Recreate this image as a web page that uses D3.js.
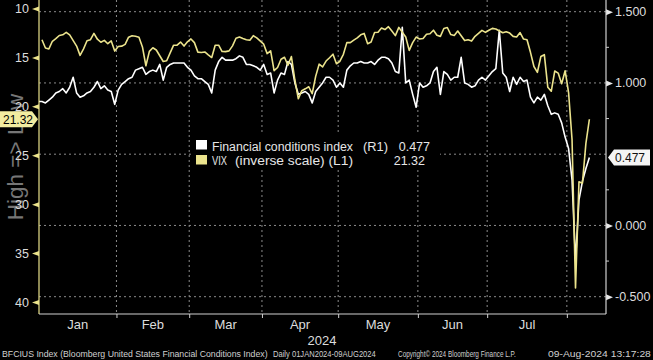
<!DOCTYPE html>
<html><head><meta charset="utf-8">
<script src="https://cdn.jsdelivr.net/npm/d3@7"></script>
<style>html,body{margin:0;padding:0;background:#000;overflow:hidden}</style>
</head><body><svg id="c" width="653" height="360"></svg>
<script>
// ---------- data ----------
const months = ["Jan","Feb","Mar","Apr","May","Jun","Jul"];
const yearLabel = "2024";
const leftTicks = [10,15,20,25,30,35,40];
const rightTicks = [-0.5,0,0.5,1,1.5];
const rightLabelTicks = [-0.5,0,1,1.5];
const rightMinor = [-0.25,0.25,0.75,1.25];
// weekdays 01JAN2024 - 09AUG2024 (index order)
const fciValues = [
 // Jan
 0.87,0.87,0.86,0.88,0.90,0.93,0.94,0.96,0.93,0.97,1.04,0.93,0.90,0.91,0.93,0.94,0.97,1.01,0.96,0.98,0.95,0.94,0.85,
 // Feb
 0.95,0.99,1.01,1.03,1.04,1.09,1.10,1.11,1.06,1.08,1.09,1.08,1.13,1.02,1.11,1.13,1.14,1.14,1.14,1.14,1.11,
 // Mar
 1.09,1.05,1.03,1.03,1.01,0.99,0.93,1.09,1.15,1.18,1.16,1.16,1.16,1.17,1.19,1.18,1.13,1.13,1.12,1.11,1.09,
 // Apr
 1.13,1.06,1.07,0.93,1.02,1.07,1.06,1.15,1.13,1.00,0.92,0.93,0.94,0.92,0.86,0.94,0.97,1.00,1.04,1.04,1.02,0.97,
 // May
 1.00,0.97,1.09,1.12,1.14,1.14,1.15,1.14,1.14,1.15,1.13,1.16,1.18,1.18,1.17,1.14,1.08,1.07,1.39,1.00,1.02,0.92,0.83,
 // Jun
 1.00,0.97,0.98,1.00,1.08,1.11,0.92,1.08,1.06,1.02,1.04,1.04,1.18,1.00,0.99,0.97,0.98,1.02,1.04,1.02,
 // Jul
 1.05,1.08,1.10,1.37,1.07,1.04,0.94,1.04,0.99,1.04,1.01,1.02,0.90,0.86,0.90,0.88,0.92,0.84,0.78,0.79,0.78,0.72,0.62,
 // Aug
 0.54,0.32,-0.25,0.18,0.31,0.40,0.477
];
const vixValues = [
 // Jan
 null,13.20,14.04,14.13,13.35,13.08,12.76,12.69,12.44,12.70,null,13.84,14.79,14.13,13.30,13.19,12.55,13.14,13.45,13.26,13.60,13.31,14.35,
 // Feb
 13.88,13.85,13.67,12.93,12.79,12.83,12.93,13.93,15.85,14.38,14.01,14.24,null,15.42,15.34,14.54,13.75,13.74,13.43,13.84,13.40,
 // Mar
 13.11,13.49,14.46,14.50,14.44,14.74,15.01,13.75,13.75,14.40,14.41,14.33,13.82,13.04,12.92,13.06,13.19,13.24,12.78,13.01,null,
 // Apr
 13.65,14.61,14.33,16.35,16.03,15.19,14.98,15.80,14.91,17.31,19.23,18.40,18.21,18.00,18.71,16.94,15.69,15.97,15.37,15.03,14.67,15.65,
 // May
 15.39,14.68,13.49,13.49,13.23,13.00,12.69,12.55,13.60,13.42,12.45,12.42,11.99,12.15,11.86,12.29,12.77,11.93,null,12.92,14.28,13.49,12.92,
 // Jun
 13.11,13.06,12.63,12.58,12.22,12.74,12.85,12.04,11.94,12.66,12.75,12.30,null,13.28,13.20,13.33,12.84,12.55,12.24,12.44,
 // Jul
 12.22,12.03,12.09,null,12.48,12.37,12.51,12.85,12.91,12.46,13.12,13.19,14.48,15.93,16.52,14.91,14.72,18.04,18.46,16.39,16.60,17.69,16.36,
 // Aug
 18.59,23.39,38.57,27.71,27.85,23.79,21.32
];
const fciName = "Financial conditions index", fciTag = "(R1)";
const vixName = "VIX", vixTag = "(inverse scale) (L1)";
const footer = [
 "BFCIUS Index (Bloomberg United States Financial Conditions Index)",
 "Daily 01JAN2024-09AUG2024",
 "Copyright\u00A9 2024 Bloomberg Finance L.P.",
 "09-Aug-2024 13:17:28"
];

// ---------- layout ----------
const L = 39, R = 606, T = 0, B = 314;
const YEL = "#ebe38c", WHT = "#ffffff", GRID = "#8c8c8c", TXT = "#dcdcdc";
const FONT = "'Liberation Sans', Arial, sans-serif";

const dates = d3.timeDay.range(new Date(2024,0,1), new Date(2024,7,10))
  .filter(d => d.getDay() !== 0 && d.getDay() !== 6);

const x = d3.scaleLinear().domain([0, 163.8]).range([38.5, R]);
const yL = d3.scaleLinear().domain([10, 40]).range([8.5, 302]);
const yR = d3.scaleLinear().domain([-0.5, 1.5]).range([296.7, 11.7]);

const bounds = [];
for (let m = 1; m <= 7; m++) {
  const i = dates.findIndex(d => d.getMonth() === m);
  bounds.push(i - 0.5);
}
const edges = [x.invert(L), ...bounds];

const svg = d3.select("#c");
svg.append("rect").attr("width",653).attr("height",360).attr("fill","#000");

// background axis title
svg.append("text")
  .attr("transform","translate(23,157) rotate(-90)")
  .attr("text-anchor","middle")
  .attr("fill","#767676")
  .style("font-family", FONT).style("font-size","22.5px")
  .text("High => Low");

// gridlines
svg.append("g").selectAll("line").data(rightTicks).join("line")
  .attr("x1",L).attr("x2",R).attr("y1",d=>yR(d)).attr("y2",d=>yR(d))
  .attr("stroke",GRID).attr("stroke-width",1).attr("stroke-dasharray","2,3");
svg.append("g").selectAll("line").data(bounds).join("line")
  .attr("x1",d=>x(d)).attr("x2",d=>x(d)).attr("y1",T).attr("y2",B)
  .attr("stroke",GRID).attr("stroke-width",1).attr("stroke-dasharray","2,3");

svg.append("clipPath").attr("id","clp").append("rect")
  .attr("x",L).attr("y",T).attr("width",R-L).attr("height",B-T);

const fciData = fciValues.map((v,i)=>({i,v}));
const vixData = vixValues.map((v,i)=>({i,v})).filter(d=>d.v!==null);

const plot = svg.append("g").attr("clip-path","url(#clp)");
plot.append("path").datum(fciData)
  .attr("d", d3.line().x(d=>x(d.i)).y(d=>yR(d.v)))
  .attr("fill","none").attr("stroke",WHT).attr("stroke-width",1.6).attr("stroke-linejoin","round");
plot.append("path").datum(vixData)
  .attr("d", d3.line().x(d=>x(d.i)).y(d=>yL(d.v)))
  .attr("fill","none").attr("stroke",YEL).attr("stroke-width",1.6).attr("stroke-linejoin","round");

// left axis
const gL = svg.append("g").attr("transform",`translate(${L},0)`)
  .call(d3.axisLeft(yL).tickValues(leftTicks).tickSize(0).tickPadding(10).tickFormat(d=>String(d)));
gL.select(".domain").remove();
gL.selectAll(".tick text").attr("fill",TXT).style("font-family",FONT).style("font-size","12.5px");
gL.selectAll(".tick").append("path").attr("d","M0,-2.5L-7,0L0,2.5Z").attr("fill",YEL);
svg.append("line").attr("x1",L).attr("x2",L).attr("y1",T).attr("y2",B).attr("stroke",YEL).attr("stroke-width",1.2);

// right axis
const gR = svg.append("g").attr("transform",`translate(${R},0)`)
  .call(d3.axisRight(yR).tickValues(rightLabelTicks).tickSize(0).tickPadding(9).tickFormat(d=>d.toFixed(3)));
gR.select(".domain").remove();
gR.selectAll(".tick text").attr("fill",TXT).style("font-family",FONT).style("font-size","12.5px");
gR.selectAll(".tick").append("path").attr("d","M0,-3L7,0L0,3Z").attr("fill","#e8e8e8");
svg.append("g").selectAll("line").data(rightMinor).join("line")
  .attr("x1",R).attr("x2",R+3).attr("y1",d=>yR(d)).attr("y2",d=>yR(d)).attr("stroke","#ccc");
svg.append("line").attr("x1",R).attr("x2",R).attr("y1",T).attr("y2",B).attr("stroke","#d0d0d0").attr("stroke-width",1.2);

// bottom axis
const gB = svg.append("g").attr("transform",`translate(0,${B})`)
  .call(d3.axisBottom(x).tickValues(bounds).tickSize(4).tickFormat(""));
gB.select(".domain").remove();
gB.selectAll(".tick line").attr("stroke","#cfcfcf");
svg.append("line").attr("x1",L).attr("x2",R).attr("y1",B).attr("y2",B).attr("stroke","#d0d0d0").attr("stroke-width",1.2);
svg.append("g").selectAll("text").data(months).join("text")
  .attr("x",(d,k)=>(x(edges[k])+x(edges[k+1]))/2).attr("y",329)
  .attr("text-anchor","middle").attr("fill",TXT)
  .style("font-family",FONT).style("font-size","13px").text(d=>d);
svg.append("text").attr("x",322).attr("y",345).attr("text-anchor","middle").attr("fill",TXT)
  .style("font-family",FONT).style("font-size","13px").text(yearLabel);

// last value labels
const lastV = vixValues[vixValues.length-1], lastF = fciValues[fciValues.length-1];
const yv = yL(lastV);
svg.append("path").attr("d",`M0,${yv-8}H32L38,${yv}L32,${yv+8}H0Z`).attr("fill","#f2eca0");
svg.append("text").attr("x",3).attr("y",yv+4.3).attr("fill","#000")
  .style("font-family",FONT).style("font-size","12px").text(lastV.toFixed(2));
const yf = yR(lastF);
svg.append("path").attr("d",`M608,${yf}L614,${yf-8}H650V${yf+8}H614Z`).attr("fill","#f4f4f4");
svg.append("text").attr("x",615).attr("y",yf+4.3).attr("fill","#111")
  .style("font-family",FONT).style("font-size","12px").text(lastF.toFixed(3));

// legend
const lg = svg.append("g");
lg.append("rect").attr("x",191).attr("y",135).attr("width",249).attr("height",33).attr("fill","#000");
lg.append("rect").attr("x",196).attr("y",140).attr("width",11).attr("height",9.5).attr("fill",WHT);
lg.append("rect").attr("x",196).attr("y",155).attr("width",11).attr("height",9.5).attr("fill",YEL);
const lt = (t,xx,yy,len,anchor) => {
  const e = lg.append("text").attr("x",xx).attr("y",yy).attr("fill","#e6e6e6")
    .style("font-family",FONT).style("font-size","12.5px").text(t);
  if (len) e.attr("textLength",len).attr("lengthAdjust","spacingAndGlyphs");
  if (anchor) e.attr("text-anchor",anchor);
};
lt(fciName,212,150.5,141);
lt(fciTag,363,150.5,25);
lt(lastF.toFixed(3),430,150.5,null,"end");
lt(vixName,212,165,15);
lt(vixTag,235,165,118);
lt(lastV.toFixed(2),425,165,null,"end");

// footer: scale each segment horizontally to its span
const fx = [[2,266],[273,103],[398,118],[548,103]];
const ft = svg.append("g").selectAll("text").data(footer).join("text")
  .attr("x",0).attr("y",0).attr("fill","#d0d0d0")
  .style("font-family",FONT).style("font-size","9.5px").text(d=>d);
ft.each(function(d,k){
  const w = this.getComputedTextLength();
  d3.select(this).attr("transform",`translate(${fx[k][0]},357) scale(${fx[k][1]/w},1)`);
});
</script></body></html>
